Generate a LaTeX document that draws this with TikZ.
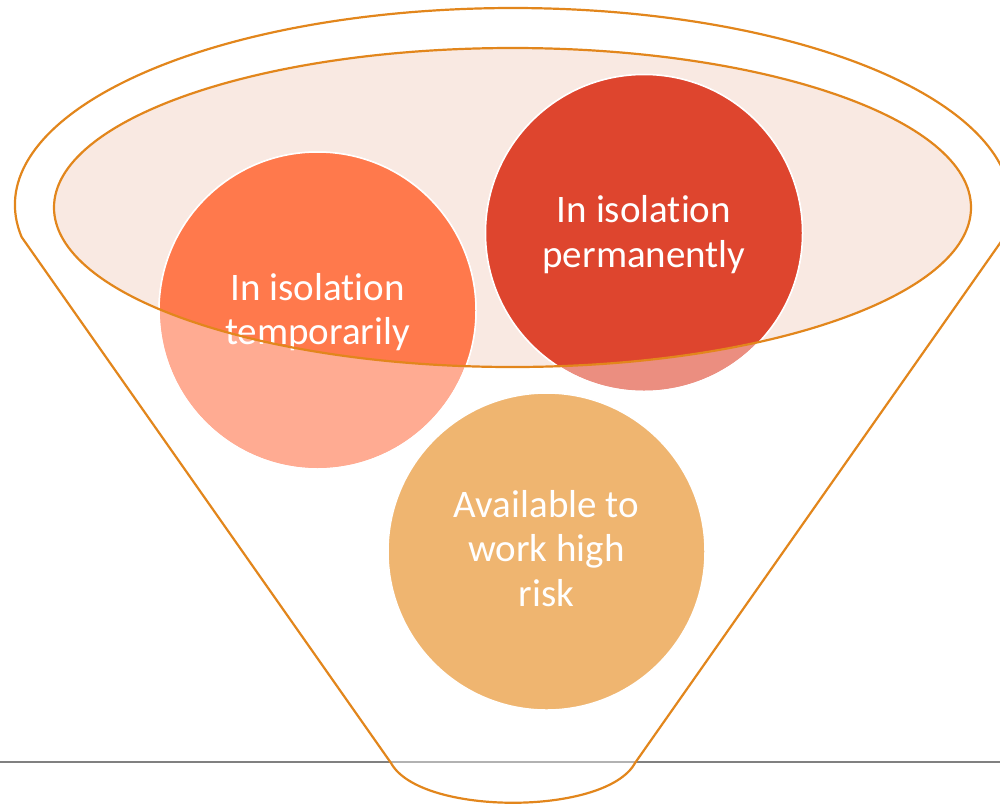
\documentclass[tikz,border=0pt]{standalone}
\usepackage{fontspec}
\setmainfont{Carlito}[Ligatures={NoCommon,NoRequired,NoContextual}]
\definecolor{funnelorange}{RGB}{226,134,28}
\definecolor{peach}{RGB}{249,233,226}
\definecolor{tempsat}{RGB}{255,121,76}
\definecolor{templight}{RGB}{255,171,146}
\definecolor{permsat}{RGB}{222,69,46}
\definecolor{permlight}{RGB}{235,142,128}
\definecolor{availcol}{RGB}{239,181,112}
\definecolor{groundgray}{RGB}{128,128,128}
\tikzset{
  outline/.style={draw=funnelorange, line width=2.2pt},
  bubble/.style={circle, draw=white, line width=1.5pt, minimum size=317pt, inner sep=0pt},
  bubbletext/.style={text=white, align=center, font=\fontsize{39}{44.5}\selectfont}
}
\begin{document}
\begin{tikzpicture}[x=1pt,y=-1pt]
\useasboundingbox (0,0) rectangle (1000,804);
% ground line
\coordinate (gl) at (0,762);
\coordinate (gr) at (1000,762);
\draw[groundgray, line width=2pt] (gl) -- (gr);
% funnel body (translucent white)
\coordinate (fl) at (21.6,237);
\coordinate (fr) at (1004.4,237);
\coordinate (bl) at (391,763);
\coordinate (br) at (635,763);
\fill[white, fill opacity=0.4] (fl) arc[start angle=170.65, end angle=369.35, x radius=498, y radius=197]
  -- (br) .. controls (606,816) and (420,816) .. (bl) -- cycle;
% inner ellipse fill
\fill[peach] (512.5,207.5) ellipse[x radius=458.5, y radius=159.5];
% bubbles (light parts)
\node[bubble, fill=templight] (temp) at (317.5,310.5) {};
\node[bubble, fill=permlight] (perm) at (644,233) {};
\node[bubble, fill=availcol] (avail) at (546.5,551.5) {};
% saturated parts inside the ellipse
\begin{scope}
  \clip (512.5,207.5) ellipse[x radius=458.5, y radius=159.5];
  \fill[tempsat] (temp.center) circle[radius=158.5];
  \fill[permsat] (perm.center) circle[radius=158.5];
\end{scope}
\draw[white, line width=1.5pt] (temp.center) circle[radius=158.5];
\draw[white, line width=1.5pt] (perm.center) circle[radius=158.5];
% texts
\node[bubbletext] (temptext) at ([yshift=-1.5pt]temp.center) {In isolation\\temporarily};
\node[bubbletext] (permtext) at ([yshift=-1.5pt]perm.center) {In isolation\\permanently};
\node[bubbletext] (availtext) at ([yshift=3pt]avail.center) {Available to\\work high\\risk};
% outlines
\draw[outline] (512.5,207.5) ellipse[x radius=458.5, y radius=159.5];
\draw[outline, line join=round] (fl) arc[start angle=170.65, end angle=369.35, x radius=498, y radius=197]
  -- (br) .. controls (606,816) and (420,816) .. (bl) -- cycle;
\end{tikzpicture}
\end{document}
